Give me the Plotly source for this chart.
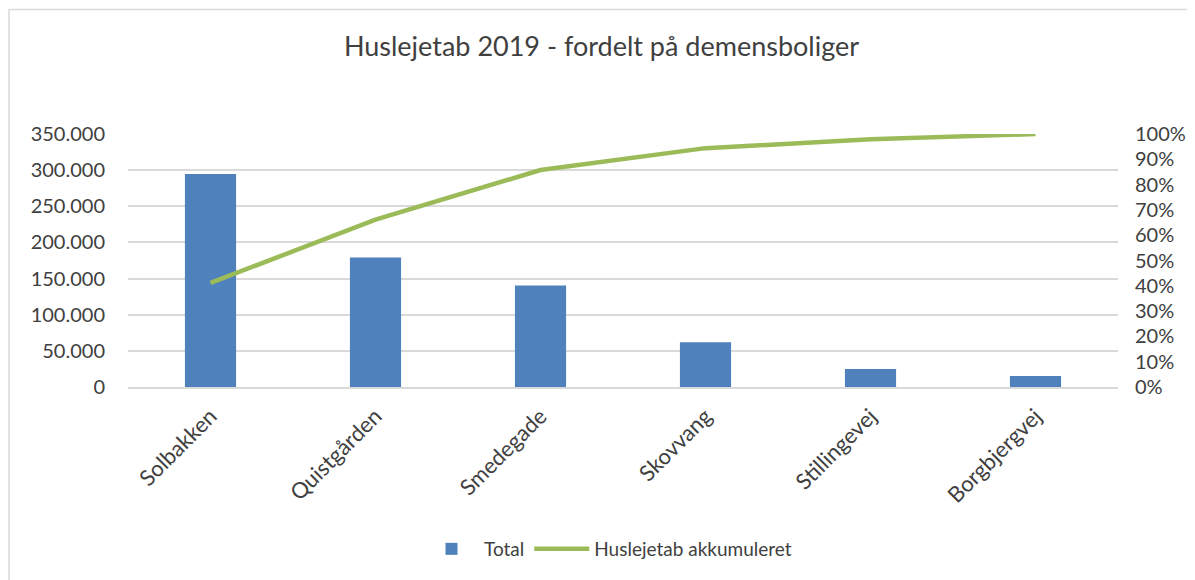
import plotly.graph_objects as go

# data
boliger = ["Solbakken", "Quistgården", "Smedegade", "Skovvang", "Stillingevej", "Borgbjergvej"]
total = [294700, 179000, 140500, 62000, 24800, 15200]

# cumulative share of the total
akk = []
s = 0
for v in total:
    s += v
    akk.append(s / sum(total))

FONT = "Lato, 'Open Sans', sans-serif"
TXT = "#404040"

# page body has an 8px margin, so the figure is drawn 8px smaller
W, H = 1187, 572
L, T, R, B = 120, 126, 77, 193
PW, PH = W - L - R, H - T - B

fig = go.Figure()
fig.add_trace(go.Bar(x=boliger, y=total, name="Total", marker_color="#4F81BD",
                     marker_line_width=0, width=0.31))
fig.add_trace(go.Scatter(x=boliger, y=akk, name="Huslejetab akkumuleret", yaxis="y2",
                         mode="lines", line=dict(color="#9BBB59", width=4.5)))

fig.update_layout(
    width=W, height=H,
    paper_bgcolor="white", plot_bgcolor="white",
    margin=dict(l=L, r=R, t=T, b=B, autoexpand=False),
    font=dict(family=FONT, color=TXT, size=20),
    title=dict(text="Huslejetab 2019 - fordelt på demensboliger", x=0.5, xanchor="center",
               y=1 - 39 / H, yanchor="middle", font=dict(size=27, color=TXT)),
    xaxis=dict(tickangle=-45, showgrid=False, showline=True, linecolor="#d9d9d9", linewidth=1.5,
               ticks="", tickfont=dict(size=22), ticklabelstandoff=6),
    yaxis=dict(range=[0, 350000], dtick=50000, tickformat=",.0f", showgrid=True,
               gridcolor="#d9d9d9", gridwidth=1.5, zeroline=False, ticks="",
               ticklabelstandoff=22),
    yaxis2=dict(range=[0, 1], dtick=0.1, tickformat=".0%", overlaying="y", side="right",
                showgrid=False, zeroline=False, ticks="", ticklabelstandoff=16),
    separators=",.",
    legend=dict(orientation="h", x=(600 - L) / PW, xanchor="center",
                y=-(541 - (T + PH)) / PH, yanchor="middle",
                font=dict(size=19), traceorder="normal", itemwidth=55),
    bargap=0.69,
)
fig.add_shape(type="rect", xref="paper", yref="paper",
              x0=-(L - 1) / PW, x1=(W + 50 - L) / PW,
              y0=-(H + 50 - (T + PH)) / PH, y1=(T + PH - 1.5) / PH,
              line=dict(color="#d9d9d9", width=1.5))

fig.write_html("out.html")
